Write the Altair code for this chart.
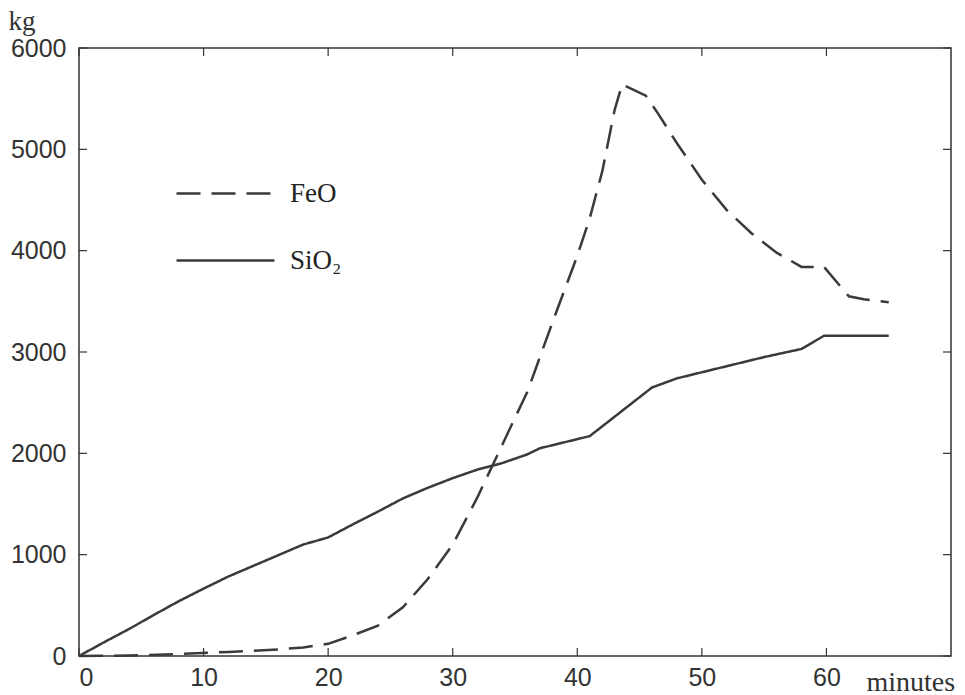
import altair as alt
import pandas as pd

# ---- data ----
sio2_minutes = [0, 2, 4, 6, 8, 10, 12, 14, 16, 18, 20, 22, 24, 26, 28, 30, 32, 34, 36, 37, 41, 46, 48, 52, 55, 58, 59.8, 65]
sio2_kg = [0, 135, 265, 405, 540, 665, 785, 890, 995, 1100, 1170, 1300, 1425, 1555, 1660, 1755, 1840, 1905, 1990, 2050, 2170, 2650, 2740, 2860, 2950, 3030, 3160, 3160]

feo_minutes = [0, 4, 8, 12, 16, 18, 20, 22, 24, 26, 28, 30, 32, 34, 36, 38, 40, 41, 42, 43, 43.6, 45.5, 46.5, 48, 50, 52, 54, 56, 58, 59.8, 61.8, 63, 65]
feo_kg = [0, 5, 20, 40, 65, 85, 120, 205, 300, 480, 760, 1100, 1570, 2090, 2610, 3290, 3950, 4320, 4780, 5390, 5640, 5530, 5350, 5060, 4700, 4400, 4170, 3980, 3840, 3840, 3550, 3520, 3490]

series_names = ["FeO", "SiO₂"]
x_ticks = [0, 10, 20, 30, 40, 50, 60]
y_ticks = [0, 1000, 2000, 3000, 4000, 5000, 6000]

rows = []
for m, v in zip(feo_minutes, feo_kg):
    rows.append({"series": series_names[0], "minute": m, "kg": v})
for m, v in zip(sio2_minutes, sio2_kg):
    rows.append({"series": series_names[1], "minute": m, "kg": v})
df = pd.DataFrame(rows)

W, H = 872, 608
INK = "#3a3a3a"
AX = "#333333"

x_scale = alt.Scale(domain=[0, 70], nice=False, zero=False)
y_scale = alt.Scale(domain=[0, 6000], nice=False)

x_axis = alt.Axis(
    values=x_ticks, format="d", title="minutes", ticks=False, tickSize=0, domain=False, grid=False,
    labelFont="Liberation Sans", labelFontSize=25, labelColor=AX, labelPadding=9,
    titleFont="Liberation Serif", titleFontSize=28, titleFontWeight="normal", titleColor=AX,
    titleAlign="left", titleBaseline="alphabetic", titleX=787, titleY=34,
)
y_axis = alt.Axis(
    values=y_ticks, format="d", title="kg", ticks=False, tickSize=0, domain=False, grid=False,
    labelFont="Liberation Sans", labelFontSize=25, labelColor=AX, labelPadding=13,
    titleFont="Liberation Serif", titleFontSize=27, titleFontWeight="normal", titleColor=AX,
    titleAngle=0, titleAlign="left", titleBaseline="alphabetic", titleX=-71, titleY=-19,
)

lines = alt.Chart(df).mark_line(strokeWidth=2.5, color=INK).encode(
    x=alt.X("minute:Q", scale=x_scale, axis=x_axis),
    y=alt.Y("kg:Q", scale=y_scale, axis=y_axis),
    strokeDash=alt.StrokeDash(
        "series:N",
        scale=alt.Scale(domain=series_names, range=[[24, 11], [1, 0]]),
        legend=alt.Legend(
            title=None, orient="none", legendX=96, legendY=95,
            symbolType="stroke", symbolSize=9604, symbolStrokeWidth=2.5,
            symbolStrokeColor=INK, labelFont="Liberation Serif", labelFontSize=27,
            labelColor="#222222", labelOffset=14, rowPadding=3, padding=0,
        ),
    ),
    order="minute:Q",
)

xt_df = pd.DataFrame({"minute": x_ticks})
yt_df = pd.DataFrame({"kg": y_ticks})

def xrule(y0, y1):
    return alt.Chart(xt_df).mark_rule(color=AX, strokeWidth=1.2).encode(
        x=alt.X("minute:Q", scale=x_scale, axis=x_axis),
        y=alt.value(y0), y2=alt.value(y1),
    )

def yrule(x0, x1):
    return alt.Chart(yt_df).mark_rule(color=AX, strokeWidth=1.2).encode(
        y=alt.Y("kg:Q", scale=y_scale, axis=y_axis),
        x=alt.value(x0), x2=alt.value(x1),
    )

chart = alt.layer(
    lines,
    xrule(H, H - 8), xrule(0, 8),
    yrule(0, 8), yrule(W, W - 8),
).properties(
    width=W, height=H,
    autosize=alt.AutoSizeParams(type="none"),
    padding={"left": 79, "top": 48, "right": 14, "bottom": 39},
    background="white",
).configure_view(stroke=AX, strokeWidth=1.5)

chart.save("out.html", embed_options={"renderer": "svg", "actions": False})
